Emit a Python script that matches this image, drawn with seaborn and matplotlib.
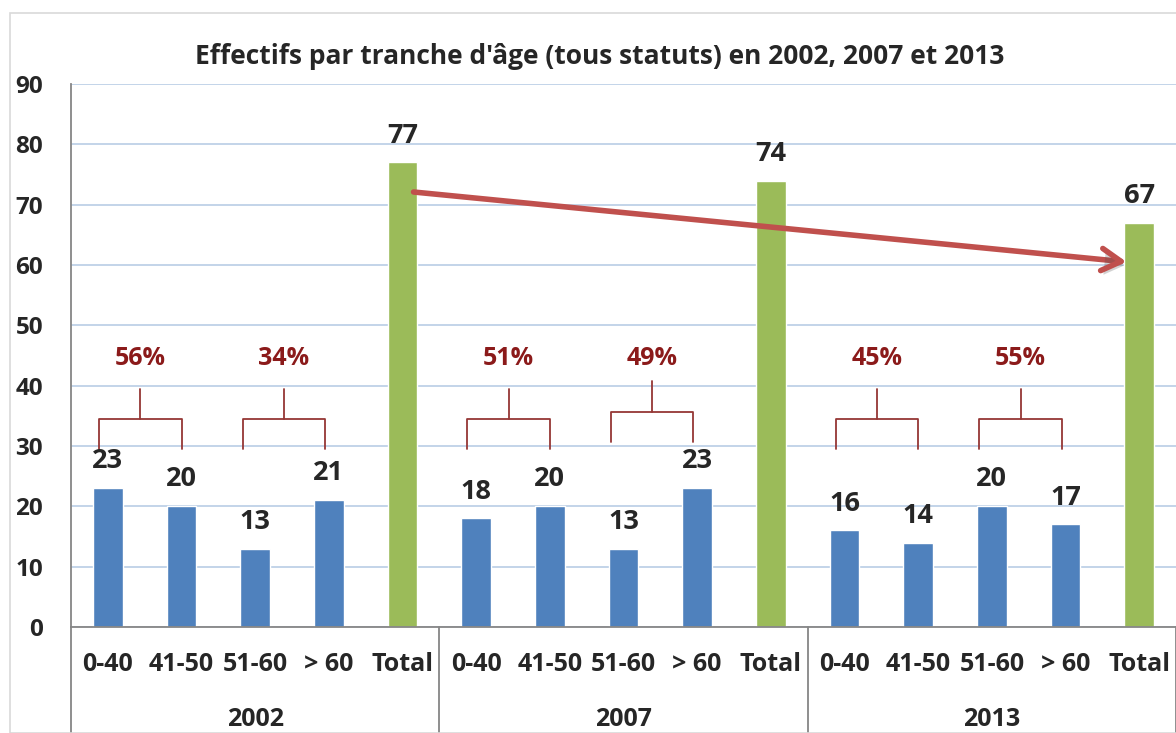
import numpy as np
import pandas as pd
import matplotlib.pyplot as plt
import seaborn as sns
from matplotlib.patches import Rectangle
import matplotlib.patheffects as pe

years = ["2002", "2007", "2013"]
tranches = ["0-40", "41-50", "51-60", "> 60", "Total"]
effectifs = {
    "2002": [23, 20, 13, 21, 77],
    "2007": [18, 20, 13, 23, 74],
    "2013": [16, 14, 20, 17, 67],
}
# share of the two younger / two older bands, per year
pct_young = ["56%", "51%", "45%"]
pct_old = ["34%", "49%", "55%"]

rows = []
for y in years:
    for t, v in zip(tranches, effectifs[y]):
        rows.append({"key": y + " " + t, "tranche": t, "annee": y, "valeur": v,
                     "kind": "total" if t == "Total" else "age"})
df = pd.DataFrame(rows)

sns.set_style("white")
plt.rcParams["font.family"] = ["Open Sans", "DejaVu Sans"]
plt.rcParams["font.weight"] = "bold"

fig = plt.figure(figsize=(11.76, 7.33), dpi=100)
ax = fig.add_axes([71 / 1176, 1 - 627 / 733, 1 - 71 / 1176, 543 / 733])

sns.barplot(data=df, x="key", y="valeur", hue="kind", order=df["key"],
            palette={"age": "#4f81bd", "total": "#9bbb59"}, dodge=False,
            width=0.4, legend=False, saturation=1, ax=ax)

ax.set_ylim(0, 90)
ax.set_xlim(-0.5, len(df) - 0.5)
ax.set_yticks(range(0, 91, 10))
ax.set_yticklabels([str(v) for v in range(0, 91, 10)], fontsize=17.5, fontweight="bold")
ax.tick_params(axis="y", length=0, pad=20)
ax.tick_params(axis="x", length=0, pad=18)
ax.set_xticks(range(len(df)))
ax.set_xticklabels(df["tranche"], fontsize=18, fontweight="bold")
ax.set_xlabel("")
ax.set_ylabel("")
ax.yaxis.grid(True, color="#b9cde5", lw=1.2)
ax.set_axisbelow(True)
for s in ["top", "right"]:
    ax.spines[s].set_visible(False)
ax.spines["left"].set_color("#868686")
ax.spines["bottom"].set_color("#868686")
ax.spines["left"].set_linewidth(1.3)
ax.spines["bottom"].set_linewidth(1.3)

# value labels
for i, v in enumerate(df["valeur"]):
    ax.annotate(str(v), (i, v), xytext=(0, 10), textcoords="offset points",
                ha="center", va="bottom", fontsize=19.5, fontweight="bold")

# year group separators and labels
tr = ax.get_xaxis_transform()
for b in [-0.5, 4.5, 9.5, 14.5]:
    ax.plot([b, b], [0, -0.25], transform=tr, color="#868686", lw=1.3, clip_on=False)
for k, y in enumerate(years):
    ax.text(k * 5 + 2, -0.17, y, transform=tr, ha="center", va="center",
            fontsize=18, fontweight="bold")

# brackets with percentages
red = "#953735"
def bracket(x0, x1, yb, yh, ytop, label):
    ax.plot([x0, x0, x1, x1], [yb, yh, yh, yb], color=red, lw=1.3)
    xm = (x0 + x1) / 2
    ax.plot([xm, xm], [yh, ytop], color=red, lw=1.3)
    ax.text(xm, 44.5, label, ha="center", va="center", fontsize=18,
            fontweight="bold", color="#8b1a1a")

for k in range(3):
    base = k * 5
    bracket(base - 0.12, base + 1.0, 29.5, 34.5, 39.5, pct_young[k])
    yoff = 1.2 if k == 1 else 0
    bracket(base + 2 - 0.17, base + 3 - 0.05, 29.5 + yoff, 34.5 + yoff, 39.5 + yoff, pct_old[k])

# trend arrow between totals
ax.annotate("", xy=(13.83, 60.5), xytext=(4.15, 72.1),
            arrowprops=dict(arrowstyle="->,head_length=1.4,head_width=0.8",
                            color="#c0504d", lw=4, shrinkA=0, shrinkB=0,
                            path_effects=[pe.SimplePatchShadow(offset=(2, -3), alpha=0.25),
                                          pe.Normal()]))

fig.text(600 / 1176, 1 - 56 / 733,
         "Effectifs par tranche d'âge (tous statuts) en 2002, 2007 et 2013",
         ha="center", va="center", fontsize=19, fontweight="bold")

fig.patches.append(Rectangle((10 / 1176, 0), 1, 1 - 13 / 733, transform=fig.transFigure,
                             fill=False, edgecolor="#d9d9d9", lw=1.2))

fig.savefig("out.png", dpi=100)
